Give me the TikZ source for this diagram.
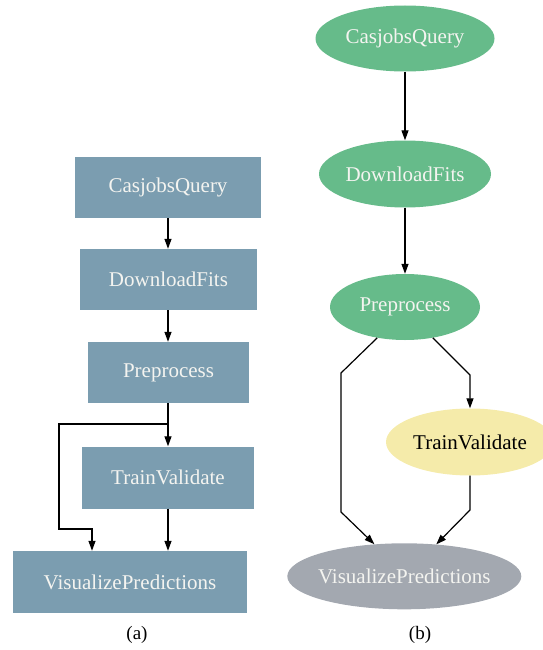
\documentclass[tikz,border=0pt]{standalone}
\usepackage{fontspec}
\setmainfont{Liberation Serif}
\usetikzlibrary{shapes.geometric,arrows.meta}

\definecolor{steel}{HTML}{7B9DB0}
\definecolor{leaf}{HTML}{66BB8A}
\definecolor{straw}{HTML}{F5EBAA}
\definecolor{slate}{HTML}{A3A8B0}
\definecolor{paper}{HTML}{F4F4F0}

\tikzset{
  x=1pt, y=-1pt,
  lbl/.style={font=\fontsize{21}{24}\selectfont},
  taskbox/.style={lbl, rectangle, fill=steel, text=paper, inner sep=0pt},
  taskoval/.style={lbl, ellipse, inner sep=0pt, text=paper},
  arr/.style={line width=1.2pt, -{Triangle[length=10pt,width=7pt]}},
  capt/.style={font=\fontsize{19}{21}\selectfont}
}

\begin{document}
\begin{tikzpicture}
\useasboundingbox (0,0) rectangle (542,650);

% ---- (a) box layout ----
\node[taskbox, minimum width=186pt, minimum height=61pt] (cq) at (168,187.5) {CasjobsQuery};
\node[taskbox, minimum width=177pt, minimum height=61pt] (df) at (168.5,279.5) {DownloadFits};
\node[taskbox, minimum width=161pt, minimum height=61pt] (pp) at (168.5,372.5) {Preprocess};
\node[taskbox, minimum width=172pt, minimum height=62pt] (tv) at (168,477.5) {TrainValidate};
\node[taskbox, minimum width=234pt, minimum height=62pt] (vp) at (130,582) {VisualizePredictions};

\coordinate (br) at (168,424);
\coordinate (bk1) at (59,529);
\coordinate (bk2) at (92,529);

\draw[arr] (cq.south -| 168,0) -- (df.north -| 168,0);
\draw[arr] (df.south -| 168,0) -- (pp.north -| 168,0);
\draw[arr] (pp.south -| 168,0) -- (tv.north -| 168,0);
\draw[arr] (tv.south -| 168,0) -- (vp.north -| 168,0);
\draw[arr] (br) -| (bk1) -- (bk2) -- (bk2 |- vp.north);

\node[capt] (capa) at (137,635) {(a)};

% ---- (b) oval layout ----
\node[taskoval, fill=leaf, minimum width=179pt, minimum height=66pt] (cq2) at (405,38.5) {CasjobsQuery};
\node[taskoval, fill=leaf, minimum width=172pt, minimum height=67pt] (df2) at (405,174) {DownloadFits};
\node[taskoval, fill=leaf, minimum width=150pt, minimum height=66pt] (pp2) at (405,307) {Preprocess};
\node[taskoval, fill=straw, text=black, minimum width=168pt, minimum height=67pt] (tv2) at (470,442) {TrainValidate};
\node[taskoval, fill=slate, minimum width=234pt, minimum height=66pt] (vp2) at (404.3,576.3) {\makebox[0pt]{VisualizePredictions}};

\coordinate (l1) at (341,373);
\coordinate (l2) at (341,512);
\coordinate (r1) at (470,375);
\coordinate (r2) at (470,510);

\draw[arr] (cq2.south) -- (df2.north);
\draw[arr] (df2.south) -- (pp2.north);
\draw[arr] (pp2.228) -- (l1) -- (l2) -- (vp2.133);
\draw[arr] (pp2.-48) -- (r1) -- (tv2.north);
\draw[arr] (tv2.south) -- (r2) -- (vp2.45);

\node[capt] (capb) at (420,635) {(b)};
\end{tikzpicture}
\end{document}
